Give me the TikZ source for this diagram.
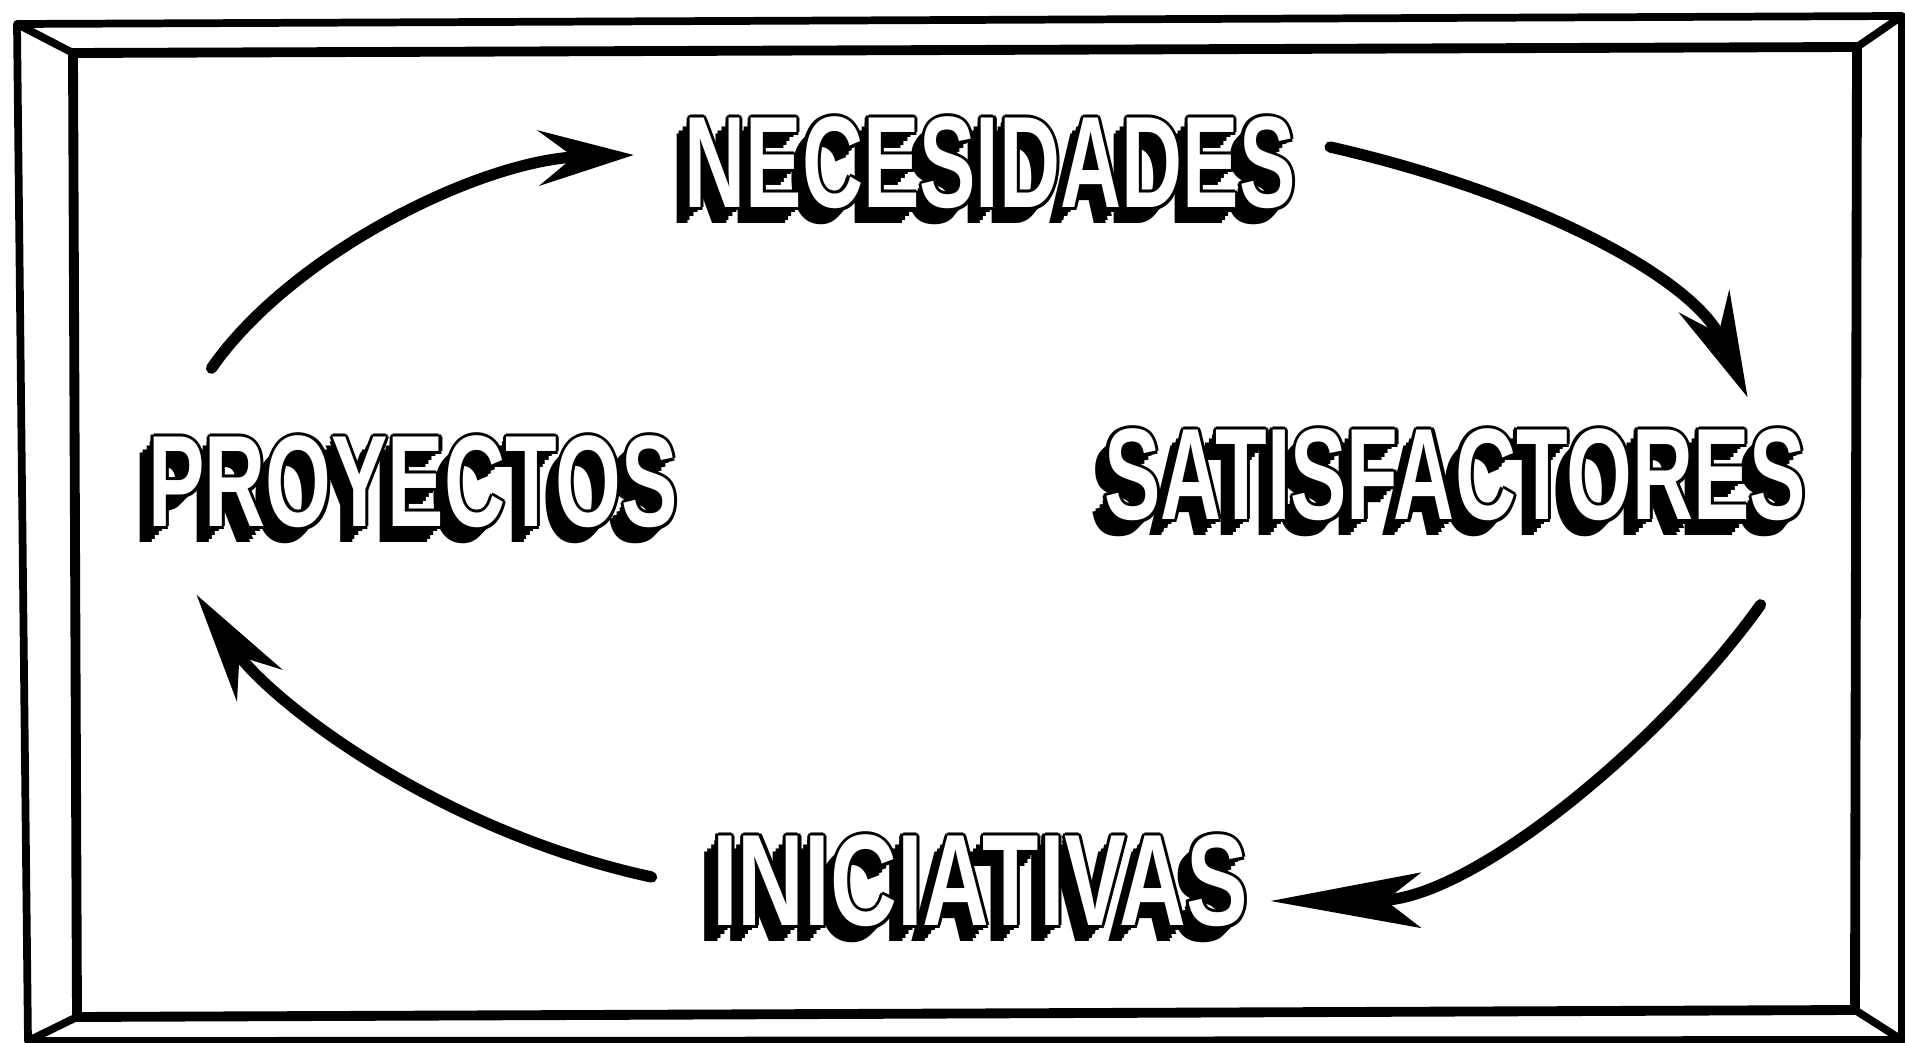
\documentclass[tikz,border=0pt]{standalone}
\usepackage{fontspec}
\usepackage{xcolor}
\usepackage{tikz}
\usetikzlibrary{arrows.meta}
\newfontfamily\blockfont{Liberation Sans Bold}[FakeStretch=0.65]
\newfontfamily\blockwidefont{Liberation Sans Bold}[FakeStretch=0.71]
% copia desplazada de una palabra (sombra y contorno)
\newcommand{\putcopy}[3]{\makebox[0pt][l]{\hspace*{#1}\smash{\raisebox{#2}{#3}}}}
\newcommand{\blockword}[1]{%
  \putcopy{-1pt}{-1.2pt}{#1}\putcopy{-2pt}{-2.4pt}{#1}%
  \putcopy{-3pt}{-3.6pt}{#1}\putcopy{-3.8pt}{-4.6pt}{#1}%
  \putcopy{.9pt}{0pt}{#1}\putcopy{-.9pt}{0pt}{#1}%
  \putcopy{0pt}{.9pt}{#1}\putcopy{0pt}{-.9pt}{#1}%
  \putcopy{.65pt}{.65pt}{#1}\putcopy{-.65pt}{.65pt}{#1}%
  \putcopy{.65pt}{-.65pt}{#1}\putcopy{-.65pt}{-.65pt}{#1}%
  \textcolor{white}{#1}}
\tikzset{
  word/.style={inner sep=0pt, text=black, font=\blockfont\fontsize{37pt}{44pt}\selectfont},
  wideword/.style={word, font=\blockwidefont\fontsize{37pt}{44pt}\selectfont},
  frame/.style={line width=2.2pt, line join=round},
  ar/.style={line width=3.2pt, line cap=round, -{Stealth[length=#1, width=5.5mm, inset=3.5mm]}},
  ar/.default=10mm,
}
\begin{document}
\begin{tikzpicture}[x=0.01cm, y=-0.01cm]
    \useasboundingbox (0,0) rectangle (1905,1043);
    % marco
    \draw[frame] (17,24) -- (1902,16) -- (1902,1040) -- (28,1041) -- cycle;
    \draw[frame, line width=2.8pt] (73,53) -- (1857,47) -- (1855,1010) -- (77,1017) -- cycle;
    \draw[frame] (17,24) -- (73,53) (1902,16) -- (1857,47) (1902,1040) -- (1855,1010) (28,1041) -- (77,1017);
    \node[word] (nec) at (990,163) {\blockword{NECESIDADES}};
    \node[word] (sat) at (1455,475) {\blockword{SATISFACTORES}};
    \node[wideword] (ini) at (980,881) {\blockword{INICIATIVAS}};
    \node[word] (proy) at (413,482) {\blockword{PROYECTOS}};
    \draw[ar=9.5mm] ([shift={(64,-67)}]proy.north west) .. controls +(78,-113) and +(-155,5) .. ([shift={(-50,-8)}]nec.west);
    \draw[ar=10.5mm] ([shift={(34,-16)}]nec.east) .. controls +(210,48) and +(-53,-117) .. ([shift={(-59,-31)}]sat.north east);
    \draw[ar=15mm] ([shift={(-46,83)}]sat.south east) .. controls +(-96,135) and +(202,-1) .. ([shift={(22,20)}]ini.east);
    \draw[ar=11mm] ([shift={(-60,-4)}]ini.west) .. controls +(-217,-47) and +(73,105) .. ([shift={(49,66)}]proy.south west);
  \end{tikzpicture}
\end{document}
